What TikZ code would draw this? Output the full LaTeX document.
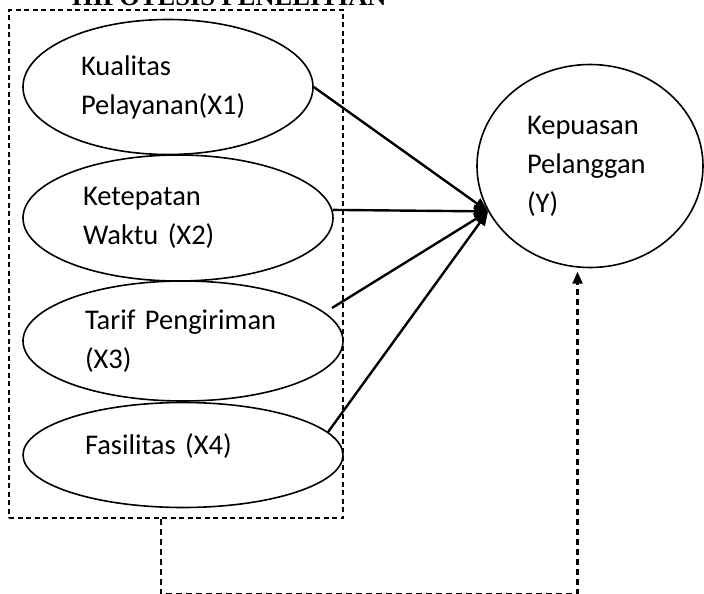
\documentclass[tikz,border=0pt]{standalone}
\usepackage{fontspec}
\setmainfont{Carlito}
\newfontfamily\judulfont{Liberation Serif}
\usepackage{tikz}
\usetikzlibrary{arrows.meta}
\usetikzlibrary{shapes.geometric}

\begin{document}
\begin{tikzpicture}[x=1pt,y=-1pt,>={Triangle[length=14pt,width=12pt]},
                    var node/.style={ellipse,draw,line width=1.6pt,inner sep=0pt,align=left,
                                     font=\fontsize{28.5}{39}\selectfont},
                    arr/.style={->,line width=2.4pt},
                    grp node/.style={draw,line width=1.6pt,dash pattern=on 5pt off 3.5pt,inner sep=0pt},
                    back/.style={->,line width=2.2pt,dash pattern=on 6pt off 4pt,
                                 >={Triangle[length=12pt,width=10pt]},shorten >=4pt}]
  \useasboundingbox (0,0) rectangle (704,594);

  \node[inner sep=0pt,anchor=base west,font=\judulfont\bfseries\fontsize{26.5}{30}\selectfont]
    (judul) at (72,6) {HIPOTESIS PENELITIAN};

  \node[grp node,minimum width=334pt,minimum height=508pt] (grp) at (176,264) {};

  \node[var node,minimum width=290pt,minimum height=135pt,text width=174pt] (x1) at (168,87)
    {Kualitas\\Pelayanan(X1)};
  \node[var node,minimum width=310pt,minimum height=126pt,text width=190pt] (x2) at (178,218)
    {Ketepatan\\Waktu (X2)};
  \node[var node,minimum width=320pt,minimum height=120pt,text width=196pt] (x3) at (183,341)
    {Tarif Pengiriman\\(X3)};
  \node[var node,minimum width=320pt,minimum height=105pt,text width=196pt,text depth=22pt] (x4) at (183,455)
    {Fasilitas (X4)};

  \node[var node,minimum width=226pt,minimum height=203pt,text width=126pt] (y) at (590,166)
    {Kepuasan\\Pelanggan\\(Y)};

  \coordinate (hit) at (y.204);
  \coordinate (x3out) at (332,308);

  \draw[arr] (x1.east) -- (hit);
  \draw[arr] (x2.3) -- (hit);
  \draw[arr] (x3out) -- (hit);
  \draw[arr] (x4.9) -- (hit);

  \draw[back] ([xshift=-15pt]grp.south) -- ++(0,75) -| (y.263);
\end{tikzpicture}
\end{document}
